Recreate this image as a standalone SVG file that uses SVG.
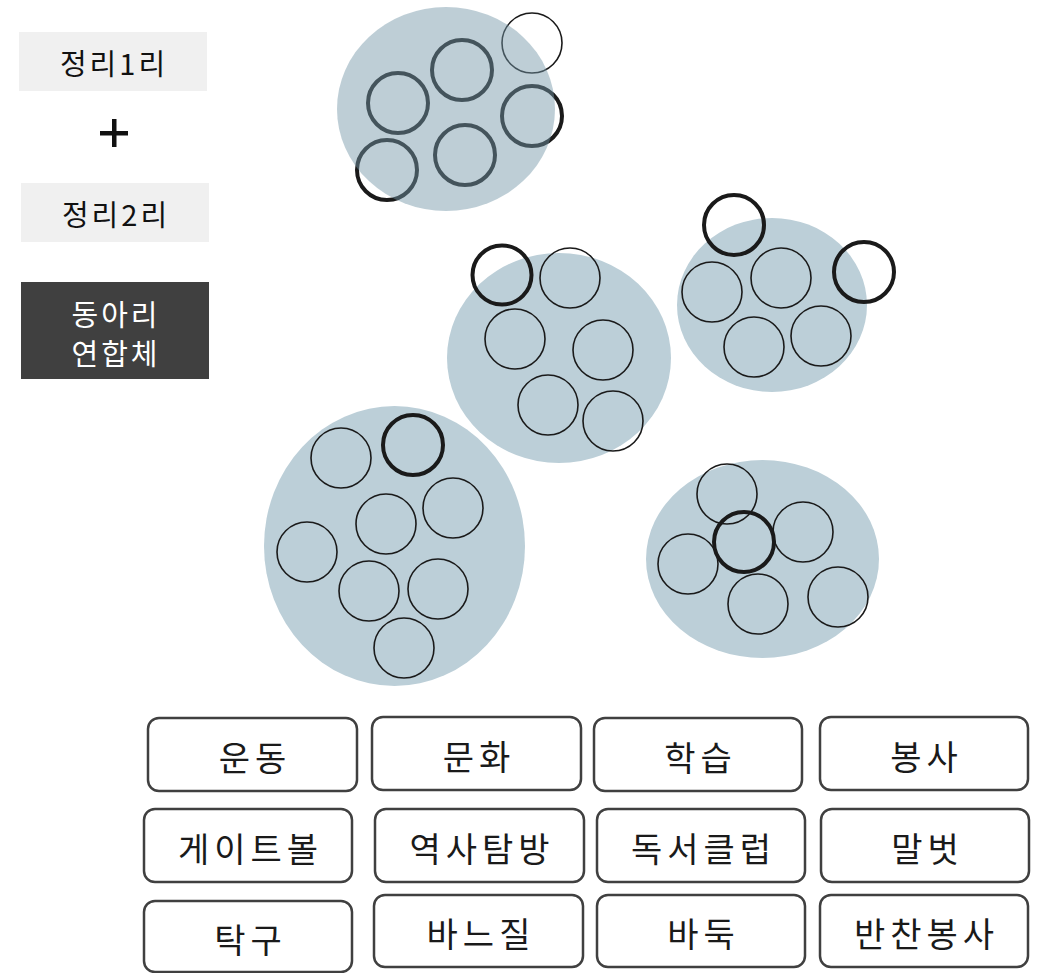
<svg xmlns="http://www.w3.org/2000/svg" width="1038" height="973" viewBox="0 0 1038 973">
<style>
.bg{fill:#ffffff}
.ell{fill:#bccfd8}
.ell1{fill:#7597a8;fill-opacity:0.47}
.thin{fill:none;stroke:#1a1a1a;stroke-width:1.6}
.thick{fill:none;stroke:#1a1a1a;stroke-width:4}
.btn{fill:#ffffff;stroke:#404040;stroke-width:2.5}
.bt{font-family:"Noto Sans CJK KR","Noto Sans",sans-serif;font-size:34px;letter-spacing:5px;fill:#1a1a1a;text-anchor:middle;dominant-baseline:central}
.lt{font-family:"Noto Sans CJK KR","Noto Sans",sans-serif;font-size:29px;letter-spacing:3px;fill:#111111;text-anchor:middle;dominant-baseline:central}
.wt{fill:#ffffff}
</style>
<rect class="bg" x="0" y="0" width="1038" height="973"/>

<g id="legend-1">
<rect x="19" y="32" width="188" height="59" fill="#f0f0f0"/>
<text class="lt" x="114" y="62">정리1리</text>
</g>
<g id="legend-plus">
<rect x="112" y="119" width="4.5" height="28" fill="#111111"/>
<rect x="100" y="131" width="28" height="4.5" fill="#111111"/>
</g>
<g id="legend-2">
<rect x="21" y="183" width="188" height="59" fill="#f0f0f0"/>
<text class="lt" x="116" y="213">정리2리</text>
</g>
<g id="legend-union">
<rect x="21" y="282" width="188" height="97" fill="#404040"/>
<text class="lt wt" x="116" y="313">동아리</text>
<text class="lt wt" x="116" y="352">연합체</text>
</g>

<g id="cluster-1">
<circle class="thick" cx="398" cy="103" r="30"/>
<circle class="thick" cx="462" cy="70" r="30"/>
<circle class="thick" cx="532" cy="116" r="30"/>
<circle class="thick" cx="387" cy="170" r="30"/>
<circle class="thick" cx="465" cy="155" r="30"/>
<circle class="thin" cx="532" cy="43" r="30"/>
<ellipse class="ell1" cx="446" cy="109" rx="109" ry="102"/>
</g>

<g id="cluster-2">
<ellipse class="ell" cx="559" cy="358" rx="112" ry="105"/>
<circle class="thick" cx="502" cy="275" r="29.5"/>
<circle class="thin" cx="570" cy="278" r="30"/>
<circle class="thin" cx="515" cy="339" r="30"/>
<circle class="thin" cx="603" cy="350" r="30"/>
<circle class="thin" cx="548" cy="405" r="30"/>
<circle class="thin" cx="613" cy="421" r="30"/>
</g>

<g id="cluster-3">
<ellipse class="ell" cx="772" cy="305" rx="95" ry="87"/>
<circle class="thick" cx="734" cy="225" r="30"/>
<circle class="thick" cx="864" cy="272" r="30"/>
<circle class="thin" cx="712" cy="292" r="30"/>
<circle class="thin" cx="781" cy="278" r="30"/>
<circle class="thin" cx="754" cy="347" r="30"/>
<circle class="thin" cx="821" cy="336" r="30"/>
</g>

<g id="cluster-4">
<ellipse class="ell" cx="394.5" cy="546" rx="130.5" ry="140"/>
<circle class="thin" cx="341" cy="458" r="30"/>
<circle class="thick" cx="413" cy="445" r="30"/>
<circle class="thin" cx="386" cy="524" r="30"/>
<circle class="thin" cx="453" cy="508" r="30"/>
<circle class="thin" cx="307" cy="552" r="30"/>
<circle class="thin" cx="369" cy="591" r="30"/>
<circle class="thin" cx="438" cy="589" r="30"/>
<circle class="thin" cx="404" cy="648" r="30"/>
</g>

<g id="cluster-5">
<ellipse class="ell" cx="762.5" cy="559" rx="116.5" ry="99"/>
<circle class="thin" cx="727" cy="494" r="30"/>
<circle class="thick" cx="744" cy="542" r="30"/>
<circle class="thin" cx="803" cy="532" r="30"/>
<circle class="thin" cx="688" cy="564" r="30"/>
<circle class="thin" cx="758" cy="604" r="30"/>
<circle class="thin" cx="838" cy="597" r="30"/>
</g>

<g id="connectors"></g>

<g id="btn-sports"><rect class="btn" x="148" y="718" width="209" height="73" rx="11"/><text class="bt" x="255" y="756">운동</text></g>
<g id="btn-culture"><rect class="btn" x="372" y="717" width="209" height="73" rx="11"/><text class="bt" x="479" y="755">문화</text></g>
<g id="btn-study"><rect class="btn" x="594" y="718" width="208" height="73" rx="11"/><text class="bt" x="700.5" y="756">학습</text></g>
<g id="btn-volunteer"><rect class="btn" x="820" y="717" width="208" height="73" rx="11"/><text class="bt" x="926.5" y="755">봉사</text></g>

<g id="btn-gateball"><rect class="btn" x="144" y="809" width="208" height="73" rx="11"/><text class="bt" x="250.5" y="847">게이트볼</text></g>
<g id="btn-history"><rect class="btn" x="375" y="809" width="209" height="73" rx="11"/><text class="bt" x="482" y="847">역사탐방</text></g>
<g id="btn-bookclub"><rect class="btn" x="597" y="809" width="208" height="73" rx="11"/><text class="bt" x="703.5" y="847">독서클럽</text></g>
<g id="btn-talkfriend"><rect class="btn" x="821" y="809" width="208" height="73" rx="11"/><text class="bt" x="927.5" y="847">말벗</text></g>

<g id="btn-pingpong"><rect class="btn" x="144" y="901" width="208" height="71" rx="11"/><text class="bt" x="250.5" y="938">탁구</text></g>
<g id="btn-sewing"><rect class="btn" x="374" y="895" width="209" height="72" rx="11"/><text class="bt" x="481" y="932">바느질</text></g>
<g id="btn-baduk"><rect class="btn" x="597" y="895" width="208" height="72" rx="11"/><text class="bt" x="703.5" y="932">바둑</text></g>
<g id="btn-sidedish"><rect class="btn" x="820" y="895" width="208" height="72" rx="11"/><text class="bt" x="926.5" y="932">반찬봉사</text></g>
</svg>
